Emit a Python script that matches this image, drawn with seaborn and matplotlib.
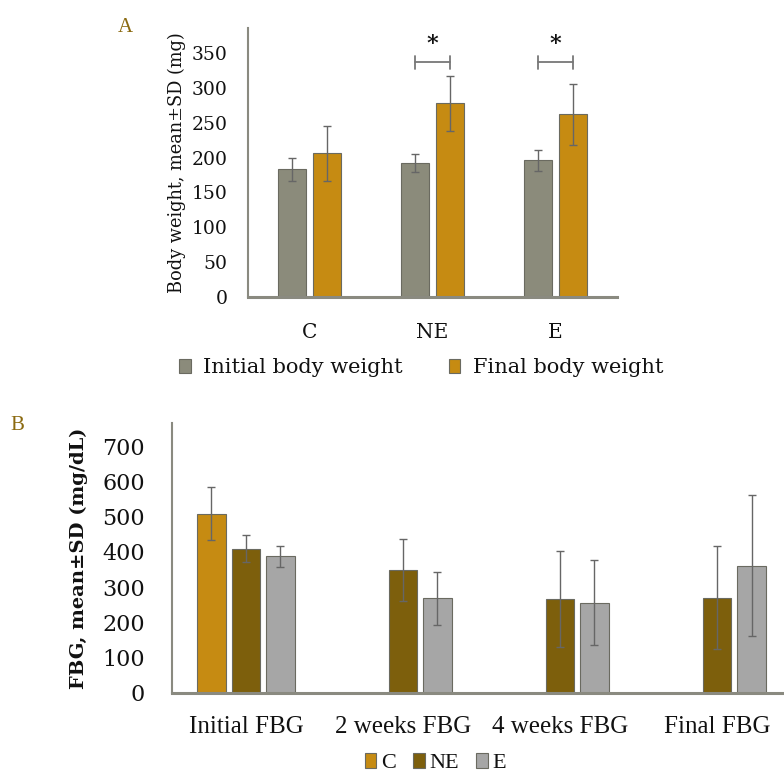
import numpy as np
import pandas as pd
import matplotlib
matplotlib.use("Agg")
import matplotlib.pyplot as plt
import seaborn as sns

# ---------------- data ----------------
groups_a = ["C", "NE", "E"]
initial_bw = [183, 192, 196]
initial_bw_sd = [17, 13, 15]
final_bw = [206, 278, 262]
final_bw_sd = [40, 40, 44]
series_a = ["Initial body weight", "Final body weight"]

times_b = ["Initial FBG", "2 weeks FBG", "4 weeks FBG", "Final FBG"]
fbg_c = [508, np.nan, np.nan, np.nan]
fbg_c_sd = [75, np.nan, np.nan, np.nan]
fbg_ne = [409, 349, 266, 270]
fbg_ne_sd = [39, 89, 137, 147]
fbg_e = [387, 268, 256, 361]
fbg_e_sd = [31, 75, 121, 200]
series_b = ["C", "NE", "E"]

sig_groups = ["NE", "E"]

# ---------------- style ----------------
sns.set_theme(style="white")
serif = ["DejaVu Serif"]
plt.rcParams["font.family"] = serif

col_init = "#8b8b7b"
col_final = "#c68b12"
col_c = "#c68b12"
col_ne = "#7d5f0c"
col_e = "#a6a6a6"
spine_col = "#8a8a80"
err_col = "#666666"
label_col = "#8b6a10"
txt_col = "#111111"

fig = plt.figure(figsize=(7.84, 7.74), dpi=100)

# ---------------- panel A ----------------
df_a = pd.DataFrame({
    "group": groups_a * 2,
    "series": [series_a[0]] * 3 + [series_a[1]] * 3,
    "value": initial_bw + final_bw,
    "sd": initial_bw_sd + final_bw_sd,
})
axA = fig.add_axes([0.316, 0.6167, 0.4707, 0.3468])
sns.barplot(data=df_a, x="group", y="value", hue="series", order=groups_a,
            hue_order=series_a, palette=[col_init, col_final], errorbar=None,
            width=0.57, gap=0.19, edgecolor="#6a6a60", linewidth=0.8,
            saturation=1, ax=axA)
for cont, s in zip(axA.containers, series_a):
    sub = df_a[df_a["series"] == s].set_index("group").loc[groups_a]
    xs = [b.get_x() + b.get_width() / 2 for b in cont]
    axA.errorbar(xs, sub["value"].values, yerr=sub["sd"].values, fmt="none",
                 ecolor=err_col, elinewidth=1.0, capsize=3, capthick=1.0)

# significance brackets
for g in sig_groups:
    gi = groups_a.index(g)
    x0 = axA.containers[0][gi]
    x1 = axA.containers[1][gi]
    xa = x0.get_x() + x0.get_width() / 2
    xb = x1.get_x() + x1.get_width() / 2
    axA.plot([xa, xb], [337, 337], color="#777777", lw=1.3)
    axA.plot([xa, xa], [328, 346], color="#777777", lw=1.3)
    axA.plot([xb, xb], [328, 346], color="#777777", lw=1.3)
    axA.text((xa + xb) / 2, 363, "*", ha="center", va="center",
             fontsize=16, fontweight="bold", color="#111111")

axA.set_xlim(-0.5, 2.5)
axA.set_ylim(0, 386)
axA.set_yticks(np.arange(0, 351, 50))
axA.set_xlabel("")
axA.set_ylabel("Body weight, mean±SD (mg)", fontsize=12.8, color=txt_col, labelpad=4)
axA.tick_params(axis="y", length=0, pad=14.4, labelsize=13.5, labelcolor=txt_col)
axA.tick_params(axis="x", length=0, pad=19, labelsize=14.5, labelcolor=txt_col)
for sp in ["top", "right"]:
    axA.spines[sp].set_visible(False)
axA.spines["left"].set_color(spine_col)
axA.spines["left"].set_linewidth(1.5)
axA.spines["bottom"].set_color(spine_col)
axA.spines["bottom"].set_linewidth(2.2)
h, l = axA.get_legend_handles_labels()
axA.legend(h, l, loc="center", bbox_to_anchor=(0.47, -0.265), ncol=2, frameon=False,
           fontsize=15, handlelength=0.55, handleheight=0.7, handletextpad=0.6,
           columnspacing=2.2, labelcolor=txt_col)

# ---------------- panel B ----------------
df_b = pd.DataFrame({
    "time": times_b * 3,
    "series": [series_b[0]] * 4 + [series_b[1]] * 4 + [series_b[2]] * 4,
    "value": fbg_c + fbg_ne + fbg_e,
    "sd": fbg_c_sd + fbg_ne_sd + fbg_e_sd,
}).dropna()
axB = fig.add_axes([0.22, 0.105, 0.78, 0.3484])
sns.barplot(data=df_b, x="time", y="value", hue="series", order=times_b,
            hue_order=series_b, palette=[col_c, col_ne, col_e], errorbar=None,
            width=0.66, gap=0.18, edgecolor="#6a6a60", linewidth=0.8,
            saturation=1, ax=axB)
for cont, s in zip(axB.containers, series_b):
    sub = df_b[df_b["series"] == s].set_index("time")
    sub = sub.loc[[t for t in times_b if t in sub.index]]
    xs = [b.get_x() + b.get_width() / 2 for b in cont]
    hs = [b.get_height() for b in cont]
    xs = [x for x, hh in zip(xs, hs) if np.isfinite(hh)]
    axB.errorbar(xs, sub["value"].values, yerr=sub["sd"].values, fmt="none",
                 ecolor=err_col, elinewidth=1.0, capsize=3, capthick=1.0)

axB.set_xlim(-0.468, 3.427)
axB.set_ylim(0, 766)
axB.set_yticks(np.arange(0, 701, 100))
axB.set_xlabel("")
axB.set_ylabel("FBG, mean±SD (mg/dL)", fontsize=14, fontweight="bold",
               color=txt_col, labelpad=10)
axB.tick_params(axis="y", length=0, pad=19.8, labelsize=16, labelcolor=txt_col)
axB.tick_params(axis="x", length=0, pad=17, labelsize=18, labelcolor=txt_col)
for t in axB.get_xticklabels():
    t.set_family(["Liberation Serif"])
for sp in ["top", "right"]:
    axB.spines[sp].set_visible(False)
axB.spines["left"].set_color(spine_col)
axB.spines["left"].set_linewidth(1.5)
axB.spines["bottom"].set_color(spine_col)
axB.spines["bottom"].set_linewidth(2.2)
h, l = axB.get_legend_handles_labels()
leg = axB.legend(h, l, loc="center", bbox_to_anchor=(0.43, -0.26), ncol=3,
                 frameon=False, handlelength=0.5, handleheight=0.7,
                 handletextpad=0.2, columnspacing=0.8, labelcolor=txt_col,
                 prop={"family": ["Liberation Serif"], "size": 16},
                 borderaxespad=0, borderpad=0.1)

fig.text(125 / 784, 1 - 27 / 774, "A", fontsize=15, color=label_col,
         ha="center", va="center", family=["Liberation Serif"])
fig.text(17 / 784, 1 - 425 / 774, "B", fontsize=15, color=label_col,
         ha="center", va="center", family=["Liberation Serif"])

fig.savefig("out.png", dpi=100)
